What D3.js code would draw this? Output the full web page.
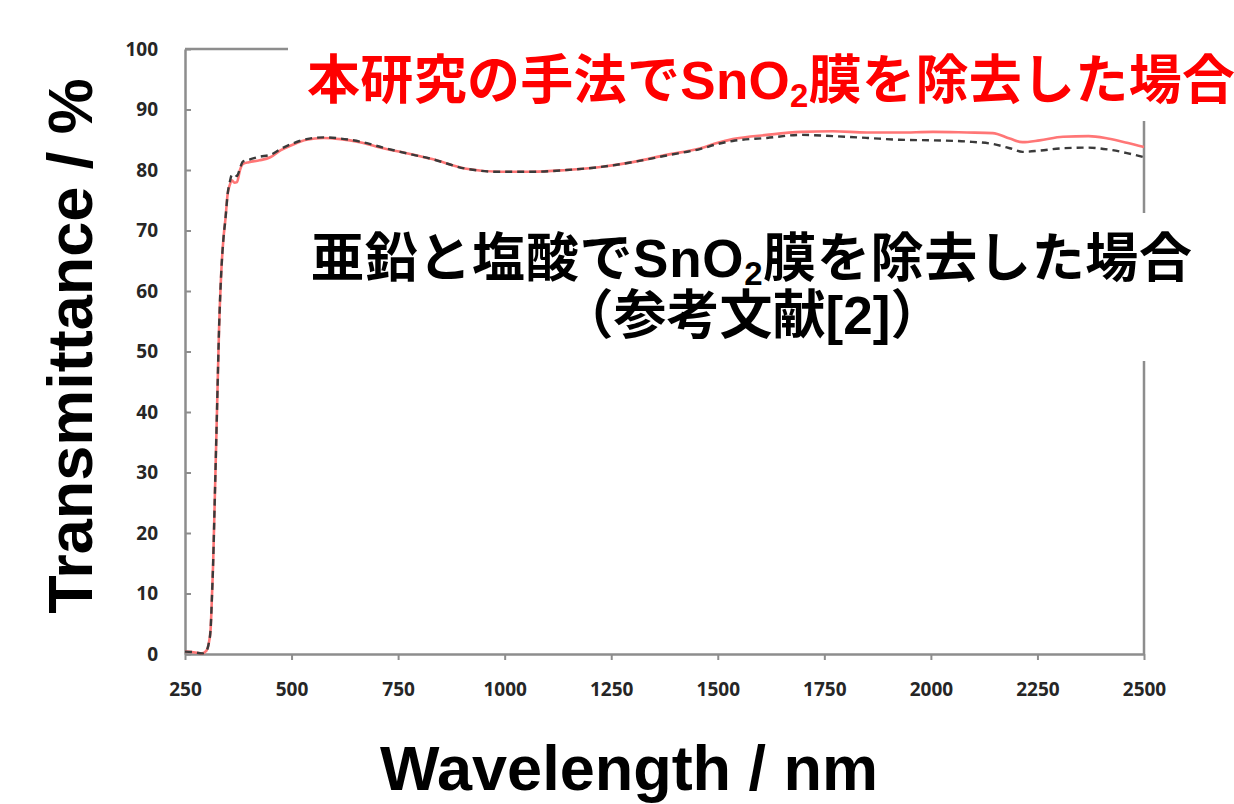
<!DOCTYPE html>
<html>
<head>
<meta charset="utf-8">
<script src="https://cdn.jsdelivr.net/npm/d3@7"></script>
<style>
  html, body { margin: 0; padding: 0; background: #fff; }
  svg { display: block; }
</style>
</head>
<body>
<svg id="chart" width="1234" height="804"></svg>
<script>
// ---- data ----
const wavelength = [250,270,290,300,305,310,313,316,320,325,330,335,340,345,350,355,360,366,372,379,386,400,425,450,475,500,535,575,615,660,715,755,830,910,990,1065,1145,1225,1300,1380,1460,1500,1535,1615,1695,1770,1850,1925,2005,2085,2145,2185,2215,2255,2310,2370,2415,2460,2500];
const thisStudy = [0.4,0.3,0.1,0.5,1.5,4,9,15,26,40,54,63,68.5,72,76,77.5,78.3,77.9,78.0,80,81,81.3,81.6,82.1,83.3,84.1,85,85.3,85.1,84.6,83.6,83,81.8,80.2,79.7,79.7,80,80.5,81.3,82.5,83.6,84.5,85.1,85.8,86.3,86.4,86.2,86.2,86.3,86.2,86.1,85.2,84.6,84.9,85.5,85.6,85.2,84.5,83.8];
const zincHcl = [0.4,0.3,0.1,0.5,1.5,4,9,15,26,40,54,63,68.5,72,76,78,79.2,79.3,79.0,80.3,81.4,81.7,82.2,82.5,83.5,84.3,85.1,85.4,85.2,84.7,83.7,83,81.8,80.2,79.7,79.7,80,80.5,81.3,82.4,83.5,84.3,84.8,85.3,85.8,85.6,85.3,85.0,84.9,84.7,84.3,83.6,83.0,83.2,83.6,83.7,83.4,82.8,82.1];
const xTicks = [250,500,750,1000,1250,1500,1750,2000,2250,2500];
const yTicks = [0,10,20,30,40,50,60,70,80,90,100];
const xTitle = "Wavelength / nm";
const yTitle = "Transmittance / %";
const redLabel = ["本研究の手法でSnO", "2", "膜を除去した場合"];
const blackLabel1 = ["亜鉛と塩酸でSnO", "2", "膜を除去した場合"];
const blackLabel2 = "（参考文献[2]）";

// ---- layout ----
const svg = d3.select("#chart");
const plotL = 185, plotR = 1144, plotT = 49, plotB = 654;
const x = d3.scaleLinear().domain([250, 2500]).range([plotL, plotR]);
const y = d3.scaleLinear().domain([0, 100]).range([plotB, plotT]);
const axisColor = "#8d8d8d";
const tickFont = "'Open Sans', 'DejaVu Sans', sans-serif";
const latinCjk = "'Liberation Sans', 'Noto Sans CJK JP', sans-serif";

// frame (top & right)
svg.append("line").attr("x1", x(250)).attr("x2", x(2500)).attr("y1", y(100)).attr("y2", y(100))
  .attr("stroke", axisColor).attr("stroke-width", 2.5);
svg.append("line").attr("x1", x(2500)).attr("x2", x(2500)).attr("y1", y(100)).attr("y2", y(0))
  .attr("stroke", axisColor).attr("stroke-width", 2.5);

// axes
const xAxis = d3.axisBottom(x).tickValues(xTicks).tickSizeInner(6).tickSizeOuter(0).tickPadding(23)
  .tickFormat(d3.format("d"));
const gx = svg.append("g").attr("transform", `translate(0,${plotB})`).call(xAxis);
const yAxis = d3.axisLeft(y).tickValues(yTicks).tickSizeInner(-6).tickSizeOuter(0).tickPadding(27)
  .tickFormat(d3.format("d"));
const gy = svg.append("g").attr("transform", `translate(${plotL},0)`).call(yAxis);
[gx, gy].forEach(g => {
  g.select(".domain").attr("stroke", axisColor).attr("stroke-width", 2.5);
  g.selectAll(".tick line").attr("stroke", axisColor).attr("stroke-width", 2);
  g.selectAll(".tick text").attr("fill", "#262626").attr("font-family", tickFont)
    .attr("font-weight", 700).attr("font-size", 19);
});

// curves
const line = d3.line().x((d, i) => x(wavelength[i])).y(d => y(d)).curve(d3.curveMonotoneX);
svg.append("path").datum(thisStudy).attr("d", line).attr("fill", "none")
  .attr("stroke", "#ff7676").attr("stroke-width", 2.6).attr("stroke-linejoin", "round");
svg.append("path").datum(zincHcl).attr("d", line).attr("fill", "none")
  .attr("stroke", "#3a3a3a").attr("stroke-width", 2.4).attr("stroke-dasharray", "7,5");

// axis titles
svg.append("text").attr("x", 629).attr("y", 790).attr("text-anchor", "middle")
  .attr("font-family", latinCjk).attr("font-weight", 700).attr("font-size", 63)
  .attr("fill", "#000").text(xTitle);
svg.append("text").attr("transform", "translate(92,346) rotate(-90)").attr("text-anchor", "middle")
  .attr("font-family", latinCjk).attr("font-weight", 700).attr("font-size", 63)
  .attr("fill", "#000").text(yTitle);

// annotation backgrounds
svg.append("rect").attr("x", 288).attr("y", 30).attr("width", 946).attr("height", 91).attr("fill", "#fff");
svg.append("rect").attr("x", 300).attr("y", 213).attr("width", 900).attr("height", 148).attr("fill", "#fff");

function labelWithSub(parts, xStart, baseline, color, len) {
  const t = svg.append("text").attr("x", xStart).attr("y", baseline)
    .attr("font-family", latinCjk).attr("font-weight", 700).attr("font-size", 53)
    .attr("fill", color).attr("textLength", len).attr("lengthAdjust", "spacing");
  t.append("tspan").text(parts[0]);
  t.append("tspan").attr("font-size", 33).attr("dy", 8).text(parts[1]);
  t.append("tspan").attr("dy", -8).text(parts[2]);
  return t;
}
labelWithSub(redLabel, 307, 99, "#ff0000", 928);
labelWithSub(blackLabel1, 311, 277, "#000", 881);
svg.append("text").attr("x", 752).attr("y", 334).attr("text-anchor", "middle")
  .attr("font-family", latinCjk).attr("font-weight", 700).attr("font-size", 53)
  .attr("fill", "#000").text(blackLabel2);
</script>
</body>
</html>
